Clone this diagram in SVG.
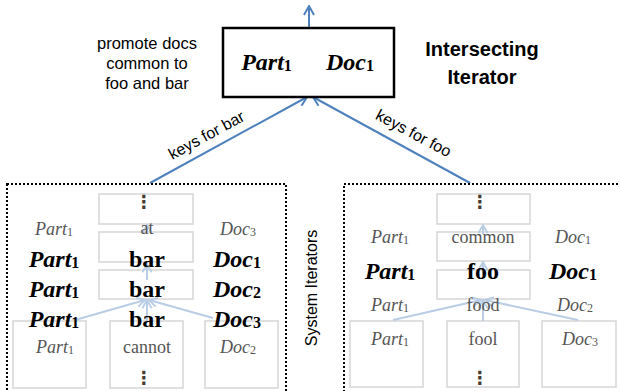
<svg xmlns="http://www.w3.org/2000/svg" width="620" height="391" viewBox="0 0 620 391">
<style>
.sans{font-family:"Liberation Sans",Arial,sans-serif;fill:#000}
.lbl{font-size:16.5px}
.title{font-size:20px;font-weight:bold}
.big{font-family:"Liberation Serif","Times New Roman",serif;font-size:24px;font-weight:bold;font-style:italic;fill:#000}
.bigw{font-family:"Liberation Serif","Times New Roman",serif;font-size:24px;font-weight:bold;fill:#000}
.gi{font-family:"Liberation Serif","Times New Roman",serif;font-size:18px;font-style:italic;fill:#555}
.gw{font-family:"Liberation Serif","Times New Roman",serif;font-size:18px;fill:#555}
.sb{font-size:16px;font-style:normal}
.sg{font-size:12px;font-style:normal}
.dots{font-family:"DejaVu Sans",sans-serif;font-size:18px;font-weight:bold;fill:#4a3a30}
.cell{fill:none;stroke:#d6d6d6;stroke-width:1.5}
.dotted{fill:none;stroke:#000;stroke-width:2;stroke-dasharray:2 2}
.blue{stroke:#4f81bd;stroke-width:2;fill:none}
.lb{stroke:#b9cde5;stroke-width:2;fill:none}
</style>
<defs>
<marker id="ah" viewBox="0 0 12 12" refX="11" refY="6" markerWidth="12" markerHeight="12" markerUnits="userSpaceOnUse" orient="auto">
<path d="M2,1 L11,6 L2,11" fill="none" stroke="#4f81bd" stroke-width="2"/>
</marker>
<marker id="ahl" viewBox="0 0 12 12" refX="11" refY="6" markerWidth="11" markerHeight="11" markerUnits="userSpaceOnUse" orient="auto">
<path d="M2,1 L11,6 L2,11" fill="none" stroke="#b9cde5" stroke-width="2"/>
</marker>
</defs>

<g id="connectors">
<line class="blue" x1="309" y1="28" x2="309" y2="6" marker-end="url(#ah)"/>
<line class="blue" x1="150" y1="183" x2="307" y2="97" marker-end="url(#ah)"/>
<line class="blue" x1="470" y1="183" x2="313" y2="97" marker-end="url(#ah)"/>
<text class="sans" font-size="16" text-anchor="middle" transform="translate(209,140) rotate(-28.5)">keys for bar</text>
<text class="sans" font-size="16" text-anchor="middle" transform="translate(411,138) rotate(28)">keys for foo</text>
</g>

<g id="intersecting-iterator">
<rect x="223" y="28" width="171" height="69" fill="#fff" stroke="#000" stroke-width="2.5"/>
<text class="big" x="266.5" y="70" text-anchor="middle">Part<tspan class="sb" dy="1">1</tspan></text>
<text class="big" x="350" y="70" text-anchor="middle">Doc<tspan class="sb" dy="1">1</tspan></text>
<text class="sans title" x="482" y="56" text-anchor="middle">Intersecting</text>
<text class="sans title" x="482" y="84" text-anchor="middle">Iterator</text>
<text class="sans lbl" x="147" y="49" text-anchor="middle">promote docs</text>
<text class="sans lbl" x="147" y="69" text-anchor="middle">common to</text>
<text class="sans lbl" x="147" y="89" text-anchor="middle">foo and bar</text>
</g>

<g id="system-iterators-label">
<text class="sans" font-size="16" text-anchor="middle" transform="translate(317,288) rotate(-90)">System Iterators</text>
</g>

<g id="bar-iterator">
<rect class="dotted" x="7" y="184" width="279" height="220"/>
<rect class="cell" x="99" y="194" width="94" height="30"/>
<rect class="cell" x="99" y="232" width="94" height="30"/>
<rect class="cell" x="99" y="270" width="94" height="29"/>
<rect class="cell" x="13" y="321" width="73" height="67"/>
<rect class="cell" x="110" y="321" width="73" height="67"/>
<rect class="cell" x="205" y="321" width="73" height="67"/>
<line class="lb" x1="75" y1="320" x2="145" y2="300" marker-end="url(#ahl)"/>
<line class="lb" x1="213" y1="318" x2="149" y2="300" marker-end="url(#ahl)"/>
<line class="lb" x1="147" y1="321" x2="147" y2="300" marker-end="url(#ahl)"/>
<line class="lb" x1="147" y1="280" x2="147" y2="264" marker-end="url(#ahl)"/>
<line class="lb" x1="147" y1="232" x2="147" y2="225" marker-end="url(#ahl)"/>
<text class="dots" x="144" y="208" text-anchor="middle">⋮</text>
<text class="gi" x="54" y="235" text-anchor="middle">Part<tspan class="sg" dy="1">1</tspan></text>
<text class="gw" x="147" y="234" text-anchor="middle">at</text>
<text class="gi" x="238" y="235" text-anchor="middle">Doc<tspan class="sg" dy="1">3</tspan></text>
<text class="big" x="54" y="267" text-anchor="middle">Part<tspan class="sb" dy="1">1</tspan></text>
<text class="bigw" x="147" y="267" text-anchor="middle">bar</text>
<text class="big" x="237" y="267" text-anchor="middle">Doc<tspan class="sb" dy="1">1</tspan></text>
<text class="big" x="54" y="297" text-anchor="middle">Part<tspan class="sb" dy="1">1</tspan></text>
<text class="bigw" x="147" y="297" text-anchor="middle">bar</text>
<text class="big" x="237" y="297" text-anchor="middle">Doc<tspan class="sb" dy="1">2</tspan></text>
<text class="big" x="54" y="327" text-anchor="middle">Part<tspan class="sb" dy="1">1</tspan></text>
<text class="bigw" x="147" y="327" text-anchor="middle">bar</text>
<text class="big" x="237" y="327" text-anchor="middle">Doc<tspan class="sb" dy="1">3</tspan></text>
<text class="gi" x="55" y="353" text-anchor="middle">Part<tspan class="sg" dy="1">1</tspan></text>
<text class="gw" x="147" y="353" text-anchor="middle">cannot</text>
<text class="gi" x="238" y="353" text-anchor="middle">Doc<tspan class="sg" dy="1">2</tspan></text>
<text class="dots" x="144" y="384" text-anchor="middle">⋮</text>
</g>

<g id="foo-iterator">
<rect class="dotted" x="344" y="184" width="290" height="220"/>
<rect class="cell" x="437" y="194" width="93" height="30"/>
<rect class="cell" x="437" y="232" width="93" height="29"/>
<rect class="cell" x="437" y="270" width="93" height="29"/>
<rect class="cell" x="350" y="321" width="73" height="66"/>
<rect class="cell" x="447" y="321" width="72" height="66"/>
<rect class="cell" x="542" y="321" width="74" height="66"/>
<line class="lb" x1="393" y1="320" x2="481" y2="300" marker-end="url(#ahl)"/>
<line class="lb" x1="578" y1="320" x2="485" y2="300" marker-end="url(#ahl)"/>
<line class="lb" x1="483" y1="321" x2="483" y2="300" marker-end="url(#ahl)"/>
<line class="lb" x1="483" y1="275" x2="483" y2="262" marker-end="url(#ahl)"/>
<line class="lb" x1="483" y1="234" x2="483" y2="225" marker-end="url(#ahl)"/>
<text class="dots" x="480" y="208" text-anchor="middle">⋮</text>
<text class="gi" x="390" y="243" text-anchor="middle">Part<tspan class="sg" dy="1">1</tspan></text>
<text class="gw" x="483" y="243" text-anchor="middle">common</text>
<text class="gi" x="573" y="243" text-anchor="middle">Doc<tspan class="sg" dy="1">1</tspan></text>
<text class="big" x="390" y="279" text-anchor="middle">Part<tspan class="sb" dy="1">1</tspan></text>
<text class="bigw" x="483" y="279" text-anchor="middle">foo</text>
<text class="big" x="573" y="279" text-anchor="middle">Doc<tspan class="sb" dy="1">1</tspan></text>
<text class="gi" x="390" y="311" text-anchor="middle">Part<tspan class="sg" dy="1">1</tspan></text>
<text class="gw" x="483" y="311" text-anchor="middle">food</text>
<text class="gi" x="575" y="311" text-anchor="middle">Doc<tspan class="sg" dy="1">2</tspan></text>
<text class="gi" x="390" y="345" text-anchor="middle">Part<tspan class="sg" dy="1">1</tspan></text>
<text class="gw" x="483" y="345" text-anchor="middle">fool</text>
<text class="gi" x="580" y="345" text-anchor="middle">Doc<tspan class="sg" dy="1">3</tspan></text>
<text class="dots" x="480" y="384" text-anchor="middle">⋮</text>
</g>
</svg>
